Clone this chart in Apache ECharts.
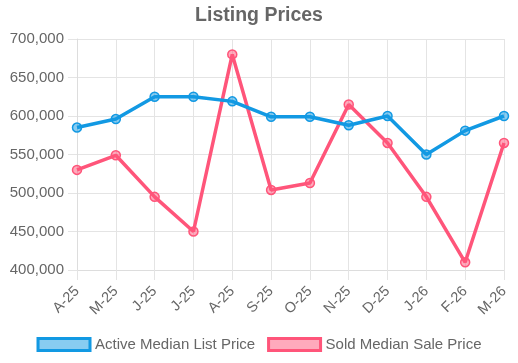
<!DOCTYPE html>
<html><head><meta charset="utf-8">
<script src="https://cdn.jsdelivr.net/npm/echarts@6/dist/echarts.min.js"></script>
<style>html,body{margin:0;padding:0;background:#fff}#c{width:518px;height:363px}</style>
</head><body><div id="c"></div>
<script>
const categories = ['A-25','M-25','J-25','J-25','A-25','S-25','O-25','N-25','D-25','J-26','F-26','M-26'];
const activeList = [585000, 596000, 625000, 625000, 619000, 599000, 599000, 588000, 600000, 550000, 581000, 600000];
const soldSale = [530000, 549000, 495000, 450000, 680000, 504000, 513000, 615000, 565000, 495000, 410000, 565000];
const yTicks = [400000, 450000, 500000, 550000, 600000, 650000, 700000];

const FONT = '"Liberation Sans", Arial, Helvetica, sans-serif';
const BLUE = '#1299e3', BLUE_FILL = 'rgba(18,153,227,0.5)';
const RED = '#ff557a', RED_FILL = 'rgba(255,85,122,0.5)';
const chart = echarts.init(document.getElementById('c'));
chart.setOption({
  animation: false,
  textStyle: {fontFamily: FONT},
  title: {text: 'Listing Prices', left: 'center', top: 1,
    textStyle: {fontFamily: FONT, fontSize: 19.5, fontWeight: 'bold', color: '#666'}},
  grid: {left: 77, right: 14, top: 39, bottom: 93, containLabel: false},
  legend: {bottom: 6, left: 'center', itemWidth: 52, itemHeight: 12, itemGap: 12,
    textStyle: {fontFamily: FONT, fontSize: 15, color: '#666'},
    data: [
      {name: 'Active Median List Price', icon: 'rect', itemStyle: {color: 'rgba(18,153,227,0.5)', borderColor: BLUE, borderWidth: 3}},
      {name: 'Sold Median Sale Price', icon: 'rect', itemStyle: {color: 'rgba(255,85,122,0.5)', borderColor: RED, borderWidth: 3}}
    ]},
  xAxis: {type: 'category', data: categories, boundaryGap: false,
    axisLine: {show: true, lineStyle: {color: '#ddd'}},
    axisTick: {show: true, length: 10, lineStyle: {color: '#e4e4e4'}},
    splitLine: {show: true, lineStyle: {color: '#e4e4e4'}},
    axisLabel: {rotate: 45, fontSize: 14.5, color: '#666', margin: 19, fontFamily: FONT}},
  yAxis: {type: 'value', min: yTicks[0], max: yTicks[yTicks.length-1], interval: 50000,
    axisLine: {show: true, lineStyle: {color: '#ddd'}},
    axisTick: {show: true, length: 9, lineStyle: {color: '#e4e4e4'}},
    splitLine: {show: true, lineStyle: {color: '#e4e4e4'}},
    axisLabel: {fontSize: 15, color: '#666', margin: 13, fontFamily: FONT,
      formatter: v => v.toLocaleString('en-US')}},
  series: [
    {name: 'Active Median List Price', type: 'line', data: activeList, symbol: 'circle', symbolSize: 9,
      lineStyle: {color: BLUE, width: 3.5}, itemStyle: {color: BLUE_FILL, borderColor: BLUE, borderWidth: 1.5}, z: 3},
    {name: 'Sold Median Sale Price', type: 'line', data: soldSale, symbol: 'circle', symbolSize: 9,
      lineStyle: {color: RED, width: 3.5}, itemStyle: {color: RED_FILL, borderColor: RED, borderWidth: 1.5}, z: 2}
  ]
});
</script></body></html>
